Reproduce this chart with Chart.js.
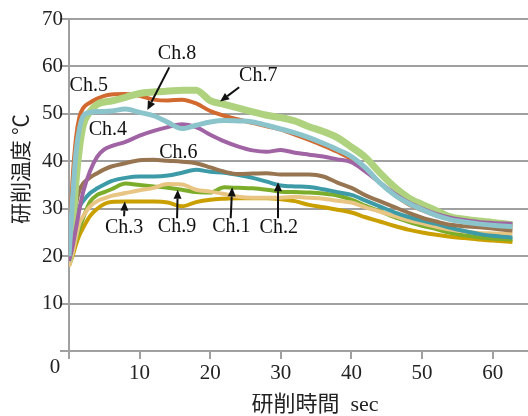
<!DOCTYPE html>
<html>
<head>
<meta charset="utf-8">
<script src="https://cdn.jsdelivr.net/npm/chart.js@4/dist/chart.umd.min.js"></script>
<style>
html,body{margin:0;padding:0;background:#fff;}
#wrap{width:528px;height:416px;position:relative;}
</style>
</head>
<body>
<div id="wrap"><canvas id="c" width="528" height="416"></canvas></div>
<script>
// ---- data ----
const timeSec = [0,0.5,1,1.5,2,3,4,5,6,8,10,12,14,16,18,20,22,24,26,28,30,32,34,36,38,40,42,44,46,48,50,52,54,56,58,60,62.8];
const ch1 = [18,21,23.5,26,28,31.5,32.9,33.5,34.1,35.3,35,34.7,34.4,34,33.5,33.4,34.5,34.4,34.3,34,33.6,33.5,33.4,33.2,32.8,31.9,30.6,29.5,28.3,27.3,26.4,25.7,24.9,24.4,24,23.7,23.5];
const ch2 = [19,23,27.5,30.4,31.6,33.3,34.3,35.1,35.8,36.5,36.8,36.8,37,37.6,38.2,37.8,37.6,37.1,36.5,35.7,34.9,34.7,34.6,34.1,33.5,32.9,31.7,30.5,29.3,28.3,27.5,26.8,26,25.3,24.7,24.3,23.9];
const ch3 = [18,20,22.5,24.5,26,28.5,30,31,31.4,31.5,31.5,31.5,31.3,30.5,31.4,31.9,32.1,32.2,32.2,32.2,32,31.6,30.8,30.3,29.8,29.2,28.2,27.3,26.4,25.6,25,24.5,24.1,23.8,23.5,23.3,23];
const ch4 = [19,22,26,30,33.5,38,41,42.5,43.2,44.1,45.4,46.4,47.2,47.8,47.2,45.6,44.2,43.1,42.3,42,42.4,41.8,41.4,41,40.4,39.8,37.8,35.5,33.3,31.4,30,28.9,28.1,27.6,27.2,27,26.8];
const ch5 = [20,36,45,49.5,51.2,52.4,53.2,53.8,54.1,54.2,53.8,53,52.8,53,52.2,50.6,49.6,48.8,48.1,47.4,46.7,45.6,44.5,43.3,42,40.5,38.3,35.5,33,31,29.7,28.6,27.8,27.2,26.8,26.5,26.2];
const ch6 = [19,26,31,34,35.3,36.6,37.5,38.3,38.9,39.6,40.2,40.3,40.1,39.9,39.6,38.7,37.8,37.3,37.4,37.5,37.2,37.2,37.2,36.8,35.5,34.4,32.8,31.6,30.4,29.2,28.1,27.3,26.6,26.3,26.1,25.8,25.4];
const ch7 = [19,26,36,43,47.5,50.5,52,52.5,52.7,53.5,54.3,54.6,54.8,55,55,52.8,52,51.2,50.4,49.7,49.2,48.5,47.3,46.3,45,43,40.8,37.6,34.7,32.4,30.9,29.6,28.3,27.8,27.4,27.1,26.6];
const ch8 = [20,32,42,47,49.5,50.3,50.5,50.5,50.6,51,50.3,49.6,48.2,46.9,47.6,48.3,48.6,48.5,48.3,47.6,46.8,46,45,43.8,42.5,41,38.6,35.5,33,31.2,29.8,28.6,27.7,27.2,26.8,26.5,26.2];
const ch9 = [17.8,20.5,24,27,28.4,30.5,31.6,32.2,32.7,33.3,33.9,34.4,35.2,35.1,34,33.6,33.1,32.5,32.3,32.3,32.3,32.5,32.3,32.1,31.7,31.3,30.3,29.4,28.5,27.6,26.9,26.2,25.6,25.2,24.9,24.8,24.7];
const seriesNames = ['Ch.1','Ch.2','Ch.3','Ch.4','Ch.5','Ch.6','Ch.7','Ch.8','Ch.9'];
const yTicks = [0,10,20,30,40,50,60,70];
const xTicks = [0,10,20,30,40,50,60];

// ---- styles ----
const seriesValues = [ch1,ch2,ch3,ch4,ch5,ch6,ch7,ch8,ch9];
const colors = ['#7cad2a','#3c9ba6','#c9a000','#a063a3','#d2692e','#977551','#aed27e','#8cc4cc','#e8c582'];
const widths = [4,4,4,4,4,4,7,5,4];
const drawOrder = [7,5,8,2,4,4,3,1,6];
const serif = "'Liberation Serif', 'Times New Roman', serif";
const cjk = "'Liberation Serif', 'Noto Sans CJK JP', serif";

// annotation placements (data units)
const labels = [
  {text:'Ch.5', x:2.8, y:56},
  {text:'Ch.8', x:15.3, y:62.6, from:[14.2,59.8], to:[11.1,50.8]},
  {text:'Ch.7', x:26.8, y:58.1, from:[24.1,55.6], to:[21.4,52.6]},
  {text:'Ch.4', x:5.5, y:46.7},
  {text:'Ch.6', x:15.5, y:41.9},
  {text:'Ch.3', x:7.8, y:26, from:[7.8,28.4], to:[7.9,31.5]},
  {text:'Ch.9', x:15.3, y:26.2, from:[15.3,28], to:[15.4,34]},
  {text:'Ch.1', x:23, y:26.2, from:[22.9,28], to:[23.1,34.5]},
  {text:'Ch.2', x:29.7, y:26, from:[29.6,28], to:[29.6,35.6]}
];

const datasets = seriesNames.map((n,i)=>({
  label:n,
  data: timeSec.map((t,k)=>({x:t,y:seriesValues[i][k]})),
  borderColor: colors[i],
  backgroundColor: colors[i],
  borderWidth: widths[i],
  pointRadius:0,
  tension:0.3,
  cubicInterpolationMode:'monotone',
  fill:false,
  order: drawOrder[i]
}));

const annotate = {
  id:'annotate',
  afterDatasetsDraw(chart){
    const ctx = chart.ctx, xs = chart.scales.x, ys = chart.scales.y;
    ctx.save();
    ctx.fillStyle = '#111';
    ctx.strokeStyle = '#111';
    ctx.font = '20px ' + serif;
    ctx.textAlign = 'center';
    ctx.textBaseline = 'middle';
    labels.forEach(l=>{
      ctx.fillText(l.text, xs.getPixelForValue(l.x), ys.getPixelForValue(l.y));
      if(l.from){
        const x1 = xs.getPixelForValue(l.from[0]), y1 = ys.getPixelForValue(l.from[1]);
        const x2 = xs.getPixelForValue(l.to[0]), y2 = ys.getPixelForValue(l.to[1]);
        const a = Math.atan2(y2-y1, x2-x1);
        const hl = 9, hw = 4;
        const bx = x2 - hl*Math.cos(a), by = y2 - hl*Math.sin(a);
        ctx.lineWidth = 2;
        ctx.beginPath(); ctx.moveTo(x1,y1); ctx.lineTo(bx,by); ctx.stroke();
        ctx.beginPath();
        ctx.moveTo(x2,y2);
        ctx.lineTo(bx + hw*Math.sin(a), by - hw*Math.cos(a));
        ctx.lineTo(bx - hw*Math.sin(a), by + hw*Math.cos(a));
        ctx.closePath(); ctx.fill();
      }
    });
    // small downward tick marks on the time axis
    ctx.strokeStyle = '#a0a0a0';
    ctx.lineWidth = 2;
    xTicks.forEach(v=>{
      const px = Math.round(xs.getPixelForValue(v));
      ctx.beginPath(); ctx.moveTo(px, ys.bottom); ctx.lineTo(px, ys.bottom + 8); ctx.stroke();
    });
    // axis titles and origin label
    ctx.fillStyle = '#222';
    ctx.font = '21px ' + serif;
    ctx.fillText('0', xs.left - 14, ys.bottom + 16);
    ctx.font = '22px ' + cjk;
    ctx.fillText('研削時間  sec', xs.left + 246, ys.bottom + 54);
    ctx.translate(22, ys.top + 150);
    ctx.rotate(-Math.PI/2);
    ctx.font = '21px ' + cjk;
    ctx.fillText('研削温度 ℃', 0, 0);
    ctx.restore();
  }
};

new Chart(document.getElementById('c'), {
  type:'line',
  data:{datasets},
  plugins:[annotate],
  options:{
    responsive:false,
    animation:false,
    layout:{padding:{top:19,right:0,left:0,bottom:0}},
    plugins:{legend:{display:false},tooltip:{enabled:false},title:{display:false}},
    scales:{
      x:{
        type:'linear', min:0, max:65,
        afterFit(s){ s.height = 65; },
        afterBuildTicks(s){ s.ticks = xTicks.map(v=>({value:v})); },
        border:{display:true,color:'#a0a0a0',width:2},
        grid:{drawOnChartArea:false, drawTicks:true, tickLength:8, color:'#a0a0a0', lineWidth:2},
        ticks:{padding:2, color:'#222', font:{family:serif,size:21}, maxRotation:0,
          callback:(v)=> v===0 ? '' : String(v)}
      },
      y:{
        type:'linear', min:0, max:70,
        afterFit(s){ s.width = 69; },
        afterBuildTicks(s){ s.ticks = yTicks.map(v=>({value:v})); },
        border:{display:true,color:'#a0a0a0',width:2},
        grid:{color:'#a0a0a0', lineWidth:2, tickLength:9, drawTicks:true},
        ticks:{padding:-3, color:'#222', font:{family:serif,size:21},
          callback:(v)=> v===0 ? '' : String(v)}
      }
    }
  }
});
</script>
</body>
</html>
